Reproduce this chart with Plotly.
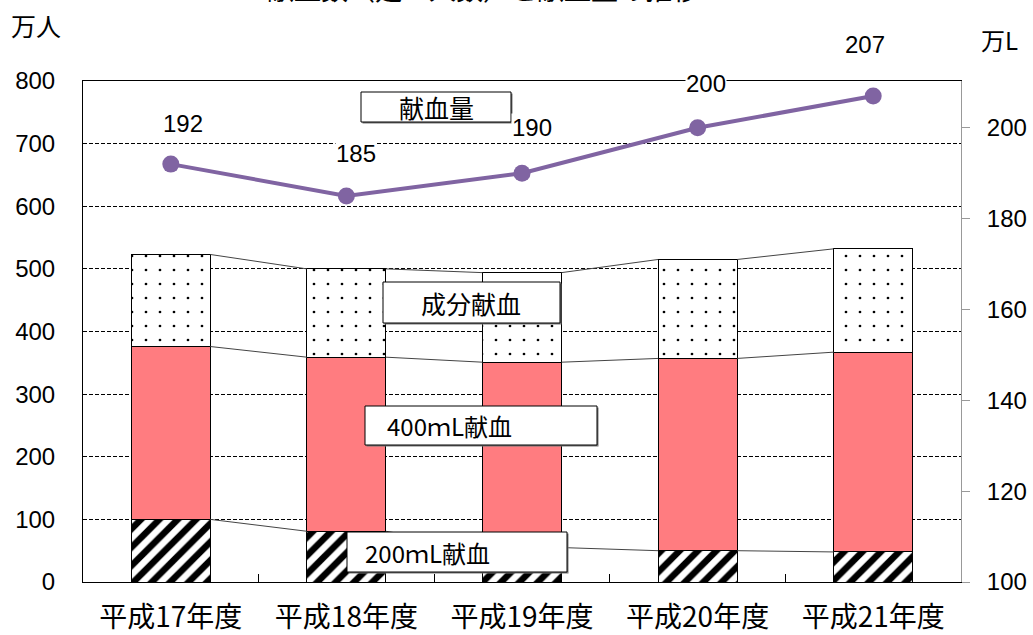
import plotly.graph_objects as go

# 年度別の献血者数（万人）と献血量（万L）
years = ["平成17年度", "平成18年度", "平成19年度", "平成20年度", "平成21年度"]
donors_200ml = [100, 81, 55, 50, 48]
donors_400ml = [276, 278, 296, 307, 319]
donors_component = [147, 141, 143, 158, 165]
volume = [192, 185, 190, 200, 207]

title_text = "献血数（延べ人数）と献血量の推移"
left_unit = "万人"
right_unit = "万L"
series_names = ["200ｍL献血", "400ｍL献血", "成分献血", "献血量"]

FONT = "Liberation Sans, Noto Sans CJK JP, sans-serif"
CJK = "Noto Sans CJK JP, sans-serif"
BAR_W = 0.45

# plot area in pixels (used to place labels in paper coordinates)
L, R, T, B = 83, 961, 81, 582
W_PX, H_PX = 1033, 635


def px(xp):
    return (xp - L) / (R - L)


def py(yp):
    return (B - yp) / (B - T)


xs = list(range(len(years)))
fig = go.Figure()

fig.add_trace(go.Bar(
    x=xs, y=donors_200ml, name=series_names[0], width=BAR_W,
    marker=dict(color="white", line=dict(color="black", width=1),
                pattern=dict(shape="/", fgcolor="black", bgcolor="white",
                             fgopacity=1, size=13, solidity=0.5)),
))
fig.add_trace(go.Bar(
    x=xs, y=donors_400ml, name=series_names[1], width=BAR_W,
    marker=dict(color="#FF7C80", line=dict(color="black", width=1)),
))
fig.add_trace(go.Bar(
    x=xs, y=donors_component, name=series_names[2], width=BAR_W,
    marker=dict(color="white", line=dict(color="black", width=1),
                pattern=dict(shape=".", fgcolor="black", bgcolor="white",
                             fgopacity=1, size=14, solidity=0.03)),
))

# series lines joining the stacked segment tops of neighbouring bars
levels = []
acc = [0] * len(years)
for seg in (donors_200ml, donors_400ml, donors_component):
    acc = [a + s for a, s in zip(acc, seg)]
    levels.append(list(acc))
cx, cy = [], []
for lev in levels:
    for i in range(len(years) - 1):
        cx += [xs[i] + BAR_W / 2, xs[i + 1] - BAR_W / 2, None]
        cy += [lev[i], lev[i + 1], None]
fig.add_trace(go.Scatter(x=cx, y=cy, mode="lines",
                         line=dict(color="#444444", width=1),
                         hoverinfo="skip", showlegend=False))

fig.add_trace(go.Scatter(
    x=xs, y=volume, name=series_names[3], yaxis="y2", mode="lines+markers",
    line=dict(color="#8064A2", width=4),
    marker=dict(color="#8064A2", size=17),
))

annotations = []
# value labels above the volume markers
label_shift = [(12, 41), (10, 42), (10, 46), (8, 44), (-8, 51)]
for i, v in enumerate(volume):
    dx, dy = label_shift[i]
    annotations.append(dict(
        x=xs[i], y=v, xref="x", yref="y2", text=str(v), showarrow=False,
        xanchor="center", yanchor="middle",
        xshift=dx, yshift=dy, bgcolor="white", borderpad=0,
        font=dict(family=FONT, size=24, color="black"),
    ))

# boxed series captions
shapes = []
boxes = [
    # (text, x0, y0, x1, y1, text x, anchor)
    ("献血量", 361, 92, 511, 122, 436, "center"),
    ("成分献血", 383, 282, 560, 323, 471, "center"),
    (series_names[1], 365, 406, 597, 445, 385, "left"),
    (series_names[0], 347, 532, 567, 572, 363, "left"),
]
for text, x0, y0, x1, y1, tx, anchor in boxes:
    shapes.append(dict(type="rect", xref="paper", yref="paper",
                       x0=px(x0) + 1.5 / (R - L), x1=px(x1) + 1.5 / (R - L),
                       y0=py(y1) - 1.5 / (B - T), y1=py(y0) - 1.5 / (B - T),
                       fillcolor="#777777", line=dict(width=0), layer="above"))
    shapes.append(dict(type="rect", xref="paper", yref="paper",
                       x0=px(x0), x1=px(x1), y0=py(y1), y1=py(y0),
                       fillcolor="white", line=dict(color="black", width=1),
                       layer="above"))
    annotations.append(dict(
        x=px(tx), y=py((y0 + y1) / 2), xref="paper", yref="paper",
        xanchor=anchor, yanchor="middle", text=text, showarrow=False,
        font=dict(family=CJK, size=25 if anchor == "center" else 24,
                  color="black"),
    ))

annotations += [
    dict(x=px(36), y=py(25), xref="paper", yref="paper", text=left_unit,
         xanchor="center", yanchor="middle", showarrow=False,
         font=dict(family=CJK, size=25, color="black")),
    dict(x=px(999), y=py(39), xref="paper", yref="paper", text=right_unit,
         xanchor="center", yanchor="middle", showarrow=False,
         font=dict(family=CJK, size=24, color="black")),
    dict(x=px(483), y=py(10), xref="paper", yref="paper", text=title_text,
         xanchor="center", yanchor="bottom", showarrow=False,
         font=dict(family=CJK, size=27, color="black")),
]

fig.update_layout(
    width=W_PX, height=H_PX,
    margin=dict(l=L, r=W_PX - R, t=T, b=H_PX - B, pad=0),
    barmode="stack", bargap=0.55,
    plot_bgcolor="white", paper_bgcolor="white",
    showlegend=False,
    font=dict(family=FONT, size=24, color="black"),
    xaxis=dict(
        range=[-0.5, len(years) - 0.5], tickvals=xs, ticktext=years,
        ticks="", showgrid=False, zeroline=False, automargin=False,
        showline=True, linecolor="black", linewidth=1, mirror=True,
        tickfont=dict(family=CJK, size=28, color="black"),
        ticklabelstandoff=10,
        minor=dict(tickvals=[i + 0.5 for i in xs[:-1]], ticks="inside",
                   ticklen=8, tickcolor="black", tickwidth=1, showgrid=False),
    ),
    yaxis=dict(
        range=[0, 800], tickvals=list(range(0, 801, 100)),
        showgrid=True, gridcolor="black", gridwidth=1, griddash="4px,2px",
        zeroline=False, showline=True, linecolor="black", linewidth=1,
        ticks="", ticklabelstandoff=22, automargin=False,
        tickfont=dict(family=FONT, size=24, color="black"),
    ),
    yaxis2=dict(
        range=[100, 210.3], tickvals=list(range(100, 201, 20)),
        overlaying="y", side="right", showgrid=False, zeroline=False,
        showline=True, linecolor="#999999", linewidth=1, automargin=False,
        ticks="outside", ticklen=8, tickcolor="#999999", tickwidth=1,
        ticklabelstandoff=12,
        tickfont=dict(family=FONT, size=24, color="black"),
    ),
    annotations=annotations,
    shapes=shapes,
)

fig.write_html("out.html")
